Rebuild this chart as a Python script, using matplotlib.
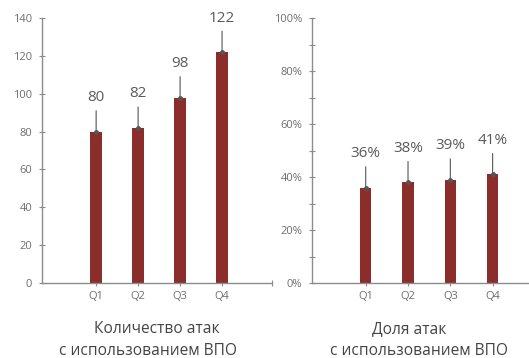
import matplotlib.pyplot as plt
from matplotlib.ticker import MultipleLocator, FuncFormatter

# quarterly data
quarters = ['Q1', 'Q2', 'Q3', 'Q4']
attack_counts = [80, 82, 98, 122]
attack_share = [36, 38, 39, 41]

bar_color = '#8b2e2b'
axis_color = '#8c8c8c'
text_color = '#5a5a5a'
font = 'Open Sans'

plt.rcParams['font.family'] = [font, 'DejaVu Sans']

fig = plt.figure(figsize=(5.29, 3.58), dpi=100)
ax1 = fig.add_axes([42 / 529, 75 / 358, 230 / 529, 265 / 358])
ax2 = fig.add_axes([312 / 529, 75 / 358, 217 / 529, 265 / 358])


def style_axis(ax, values, ymax, label_fmt):
    x = range(len(values))
    ax.bar(x, values, width=0.27, color=bar_color, zorder=2)
    for xi, v in zip(x, values):
        ax.annotate(label_fmt(v), xy=(xi, v), xytext=(0, 19), textcoords='offset points',
                    ha='center', va='bottom', fontsize=11, color=text_color,
                    arrowprops=dict(arrowstyle='-', color='#555555', lw=0.8,
                                    shrinkA=2, shrinkB=0))
        ax.plot(xi, v, 'o', ms=2.5, color='#555555', zorder=3)
    ax.set_ylim(0, ymax)
    ax.set_xticks(list(x))
    ax.set_xticklabels(quarters)
    for side in ['top', 'right']:
        ax.spines[side].set_visible(False)
    for side in ['left', 'bottom']:
        ax.spines[side].set_color(axis_color)
        ax.spines[side].set_linewidth(1.0)
    ax.tick_params(axis='both', which='both', direction='inout', color=axis_color,
                   labelcolor='#6e6e6e', labelsize=8, length=4, width=0.8)
    ax.tick_params(axis='x', pad=4)
    ax.tick_params(axis='y', pad=5)


style_axis(ax1, attack_counts, 140, lambda v: f'{v}')
ax1.yaxis.set_major_locator(MultipleLocator(20))
ax1.set_xlim(-1.29, 4.19)
# small closing tick at the right end of the category axis
ax1.set_xticks([4.18], minor=True)

style_axis(ax2, attack_share, 100, lambda v: f'{v}%')
ax2.yaxis.set_major_locator(MultipleLocator(20))
ax2.yaxis.set_minor_locator(MultipleLocator(10))
ax2.yaxis.set_major_formatter(FuncFormatter(lambda v, p: f'{v:.0f}%'))
ax2.set_xlim(-1.27, 3.86)

# captions under each panel
title_kw = dict(ha='center', va='center', fontsize=11.2, color='#444444')
fig.text(156.5 / 529, 1 - 329 / 358, 'Количество атак', **title_kw)
fig.text(148 / 529, 1 - 351 / 358, 'с использованием ВПО', **title_kw)
fig.text(409.5 / 529, 1 - 329 / 358, 'Доля атак', **title_kw)
fig.text(419.5 / 529, 1 - 351 / 358, 'с использованием ВПО', **title_kw)

fig.savefig('out.png', dpi=100)
